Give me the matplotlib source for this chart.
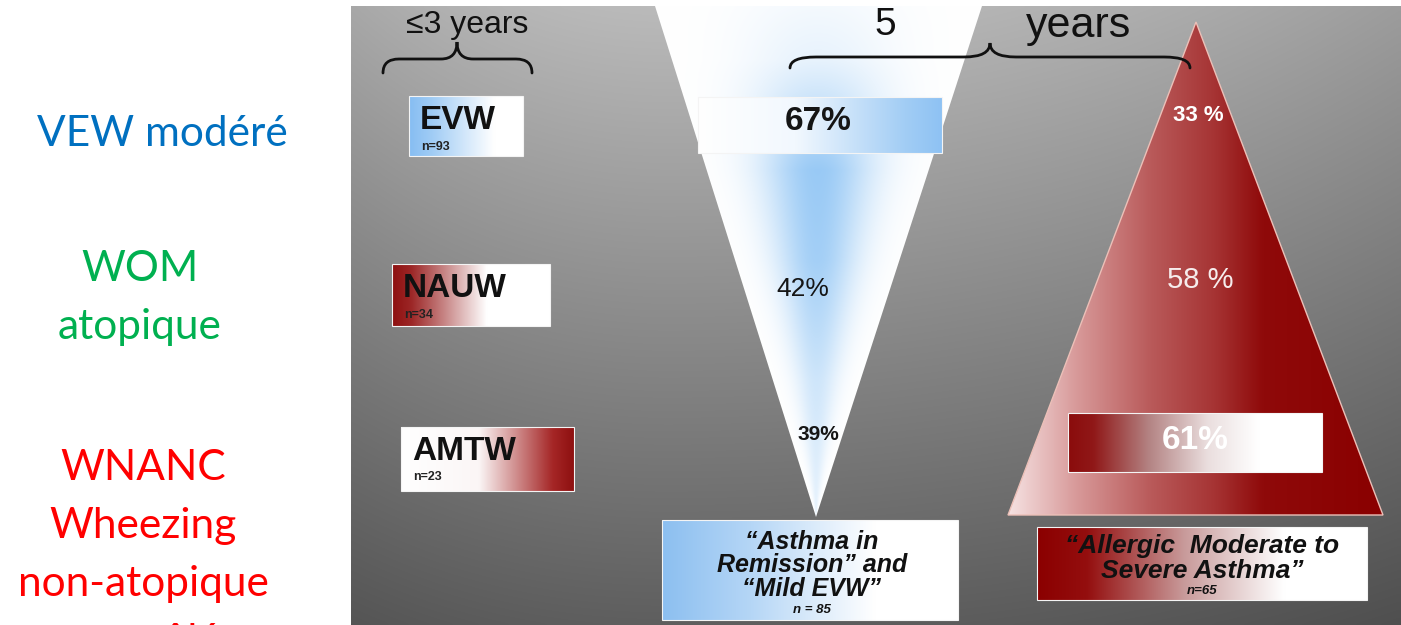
import numpy as np
import matplotlib
matplotlib.use("Agg")
import matplotlib.pyplot as plt
from matplotlib.patches import Polygon, Rectangle, PathPatch
from matplotlib.path import Path
from matplotlib.colors import LinearSegmentedColormap

# ---------------- content ----------------
fr_labels = [["VEW modéré"], ["WOM", "atopique"],
             ["WNANC", "Wheezing", "non-atopique", "contrôlé"]]
fr_colors = ["#0070C0", "#00B050", "#FF0000"]

early_groups = ["EVW", "NAUW", "AMTW"]
early_n = [93, 34, 23]

remission_pct = [67, 42, 39]
allergic_pct = [33, 58, 61]
allergic_fmt = ["{} %", "{} %", "{}%"]

outcome_lines = [["“Asthma in", "Remission” and", "“Mild EVW”"],
                 ["“Allergic  Moderate to", "Severe Asthma”"]]
outcome_n = [85, 65]
outcome_n_fmt = ["n = {}", "n={}"]

period_early = "≤3 years"
period_late = ["5", "years"]

# ---------------- canvas (pixel coordinates) ----------------
W, H = 1401, 625
fig = plt.figure(figsize=(W / 100, H / 100), dpi=100)
ax = fig.add_axes([0, 0, 1, 1])
ax.set_xlim(0, W)
ax.set_ylim(H, 0)
ax.axis("off")

SANS = "Liberation Sans"
PX = 100 / 72  # pixels per point


def cap_text(x, yc, s, size, weight="bold", style="normal", color="black",
             ha="center", family=SANS, z=6):
    """Place text so the cap height is centred on yc."""
    ax.text(x, yc + 0.36 * size * PX, s, fontsize=size, fontweight=weight,
            fontstyle=style, color=color, ha=ha, va="baseline",
            family=family, zorder=z)


def hgrad_box(x0, y0, x1, y1, stops, edge="#f4f4f4", z=3, clip=None):
    cmap = LinearSegmentedColormap.from_list("g", stops)
    arr = np.linspace(0, 1, 256)[None, :]
    im = ax.imshow(arr, cmap=cmap, extent=(x0, x1, y1, y0), origin="upper",
                   aspect="auto", interpolation="bicubic", zorder=z)
    if clip is not None:
        im.set_clip_path(clip)
    elif edge is not None:
        ax.add_patch(Rectangle((x0, y0), x1 - x0, y1 - y0, fill=False,
                               edgecolor=edge, lw=0.8, zorder=z + 0.1))
    return im


# ---------------- grey panel ----------------
px0, py0 = 351, 6
gx = np.linspace(0, 1, 300)
gy = np.linspace(0, 1, 200)
GX, GY = np.meshgrid(gx, gy)
base = 0.73 - 0.36 * GY
hf = np.where(GX < 0.3, 1 - 0.1 * ((0.3 - GX) / 0.3) ** 2,
              1 - 0.16 * ((GX - 0.3) / 0.7) ** 2)
grey = np.clip(base * hf, 0, 1)
ax.imshow(np.dstack([grey, grey, grey]), extent=(px0, W, H, py0),
          origin="upper", aspect="auto", interpolation="bicubic", zorder=0)

# ---------------- inverted blue triangle ----------------
v_tl, v_tr, v_apex = (655, 6), (982, 6), (816, 517)
vx = np.arange(650, 992) + 0.5
vy = np.arange(6, 520) + 0.5
VX, VY = np.meshgrid(vx, vy)
t = (VY - 6) / (v_apex[1] - 6)
xl = v_tl[0] + (v_apex[0] - v_tl[0]) * t
xr = v_tr[0] + (v_apex[0] - v_tr[0]) * t
xc = (xl + xr) / 2
hw = np.maximum((xr - xl) / 2, 1)
u = (VX - xc) / hw
hwgt = np.exp(-(u / 0.5) ** 2)
vwgt = np.interp(VY, [6, 60, 170, 260, 380, 517], [0.1, 0.22, 0.95, 0.85, 0.45, 0.2])
w = hwgt * vwgt
blue = np.array([0.58, 0.78, 0.96])
vimg = 1 - w[..., None] * (1 - blue)
vpoly = Polygon([v_tl, v_tr, v_apex], closed=True, transform=ax.transData)
im = ax.imshow(vimg, extent=(650, 992, 520, 6), origin="upper", aspect="auto",
               interpolation="bicubic", zorder=1)
im.set_clip_path(vpoly)

# ---------------- red triangle ----------------
r_apex, r_bl, r_br = (1196, 22), (1008, 515), (1383, 515)
rpoly = Polygon([r_apex, r_bl, r_br], closed=True, transform=ax.transData)
hgrad_box(r_bl[0], r_apex[1], r_br[0], r_bl[1],
          [(0, "#f6e2e2"), (0.18, "#d89a9a"), (0.38, "#b95a5a"),
           (0.55, "#a63434"), (0.68, "#8f0a0a"), (1, "#8a0000")],
          z=1, clip=rpoly)
ax.add_patch(Polygon([r_apex, r_bl, r_br], closed=True, fill=False,
                     edgecolor="#ecc0b8", lw=1.0, zorder=1.2))

# ---------------- braces ----------------
def brace(x0, x1, xm, y_line, y_end, y_tip, r, lw=2.0):
    verts = [(x0, y_end), (x0, y_line), (x0 + r, y_line),
             (xm - r, y_line), (xm, y_line), (xm, y_tip),
             (xm, y_line), (xm + r, y_line),
             (x1 - r, y_line), (x1, y_line), (x1, y_end)]
    codes = [Path.MOVETO, Path.CURVE3, Path.CURVE3,
             Path.LINETO, Path.CURVE3, Path.CURVE3,
             Path.CURVE3, Path.CURVE3,
             Path.LINETO, Path.CURVE3, Path.CURVE3]
    ax.add_patch(PathPatch(Path(verts, codes), fill=False, lw=lw,
                           edgecolor="#111111", capstyle="round", zorder=5))


brace(383, 532, 457, 59, 73, 42, 16)
brace(790, 1190, 990, 57, 68, 43, 26)

# period labels
cap_text(467, 21, period_early, 23, weight="normal", color="#111111")
cap_text(885, 21, period_late[0], 28, weight="normal", color="#111111")
cap_text(1079, 21, period_late[1], 31, weight="normal", color="#111111")

# ---------------- early-phenotype boxes ----------------
early_boxes = [(409, 96, 523, 156), (392, 264, 550, 326), (401, 427, 574, 491)]
early_stops = [
    [(0, "#86bdf2"), (0.2, "#a0ccf5"), (0.75, "#ffffff"), (1, "#ffffff")],
    [(0, "#8e1010"), (0.12, "#9c2626"), (0.6, "#ffffff"), (1, "#ffffff")],
    [(0, "#ffffff"), (0.45, "#fbf6f6"), (0.88, "#a52626"), (1, "#8e1010")],
]
for (x0, y0, x1, y1), stops, name, n in zip(early_boxes, early_stops,
                                             early_groups, early_n):
    hgrad_box(x0, y0, x1, y1, stops)
    cap_text(x0 + 11, y0 + 21, name, 24, ha="left", color="#111111")
    cap_text(x0 + 12, y0 + 49, f"n={n}", 9, ha="left", color="#222222")

# ---------------- remission branch ----------------
hgrad_box(698, 97, 942, 153,
          [(0, "#ffffff"), (0.4, "#f2f8fe"), (0.85, "#a2cdf5"), (1, "#8ec2f3")])
rem_pos = [(818, 118), (803, 287), (818, 432)]
rem_size = [24, 19, 15]
rem_weight = ["bold", "normal", "bold"]
for (x, y), v, s, wt in zip(rem_pos, remission_pct, rem_size, rem_weight):
    cap_text(x, y, f"{v}%", s, weight=wt, color="#151515")

hgrad_box(662, 520, 958, 620,
          [(0, "#8cbff0"), (0.3, "#b5d6f6"), (0.72, "#ffffff"), (1, "#ffffff")])
for i, line in enumerate(outcome_lines[0]):
    cap_text(812, 540 + i * 23.5, line, 18, style="italic", color="#111111")
cap_text(812, 608, outcome_n_fmt[0].format(outcome_n[0]), 9.5, style="italic",
         color="#111111")

# ---------------- allergic branch ----------------
hgrad_box(1068, 413, 1322, 472,
          [(0, "#8b0c0c"), (0.1, "#901818"), (0.32, "#b48484"), (0.55, "#eadede"),
           (0.75, "#ffffff"), (1, "#ffffff")])
all_pos = [(1198, 113), (1200, 278), (1195, 437)]
all_size = [16, 21, 24]
all_weight = ["bold", "normal", "bold"]
all_color = ["white", "#f6ecec", "white"]
for (x, y), v, fmt, s, wt, c in zip(all_pos, allergic_pct, allergic_fmt,
                                    all_size, all_weight, all_color):
    cap_text(x, y, fmt.format(v), s, weight=wt, color=c)

hgrad_box(1037, 527, 1367, 600,
          [(0, "#8b0000"), (0.15, "#940e0e"), (0.45, "#c99c9c"), (0.75, "#ffffff"),
           (1, "#ffffff")])
for i, line in enumerate(outcome_lines[1]):
    cap_text(1202, 543 + i * 25, line, 19, style="italic", color="#111111")
cap_text(1202, 589, outcome_n_fmt[1].format(outcome_n[1]), 9.5, style="italic",
         color="#111111")

# ---------------- French phenotype names ----------------
fr_x = [162, 140, 143]
fr_base = [146, 281, 480]
fr_step = 58
for lines, col, x, b in zip(fr_labels, fr_colors, fr_x, fr_base):
    for i, line in enumerate(lines):
        ax.text(x, b + i * fr_step, line, fontsize=30.5, color=col, ha="center",
                va="baseline", family="Lato", zorder=6)

fig.savefig("out.png", dpi=100)
